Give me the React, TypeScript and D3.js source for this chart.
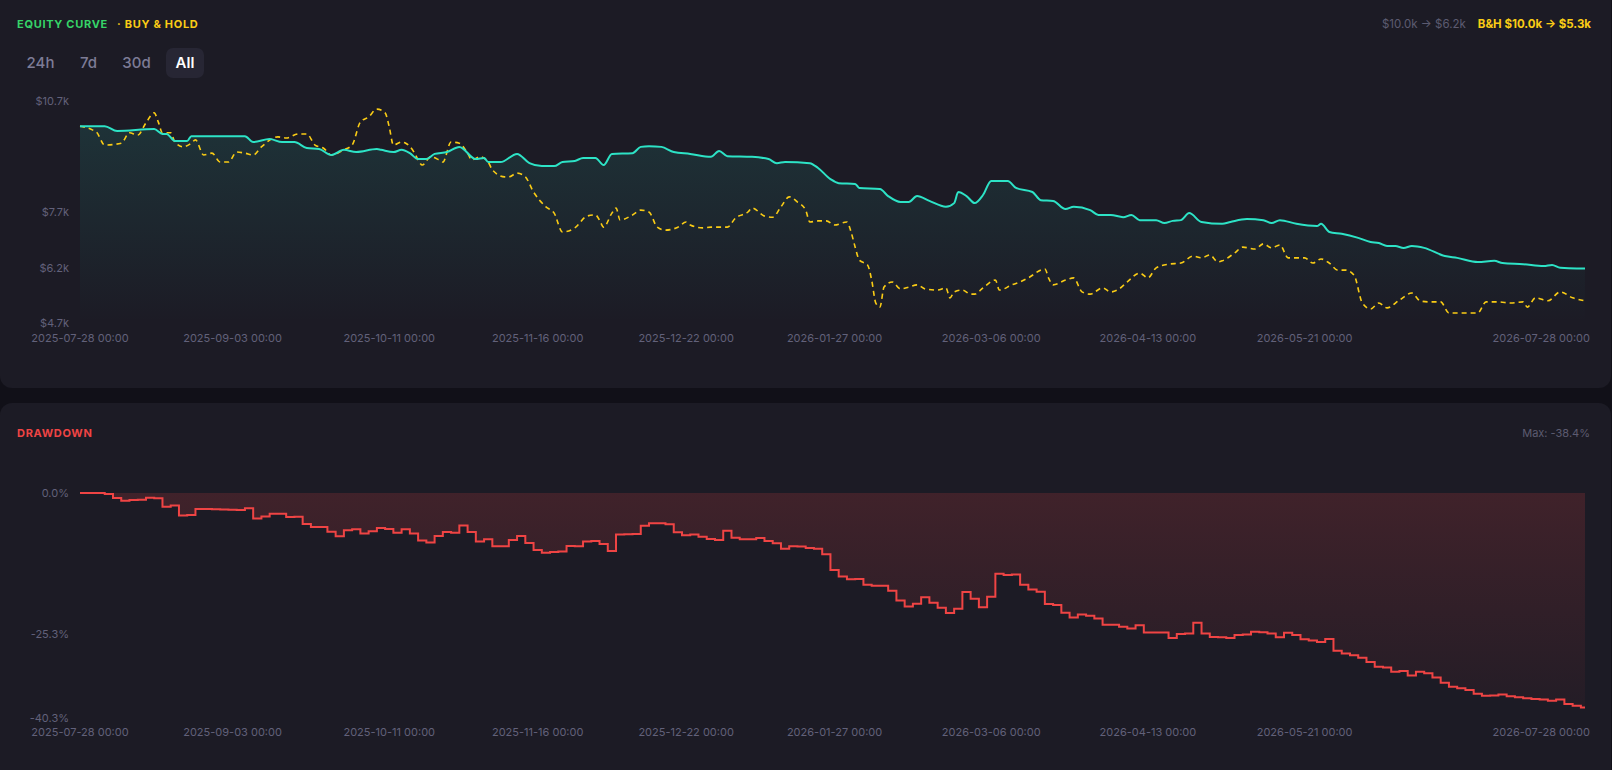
import * as d3 from "d3";

// ---- data ----
const START = "2025-07-28";
const END = "2026-07-28";

// [days since START, account value $]
const equityPoints: [number, number][] = [
  [0, 10020], [6, 10020], [9, 9890], [18, 9940], [20, 9810], [21, 9810], [23, 9620], [26, 9620],
  [27, 9750], [40, 9750], [42, 9590], [46, 9670], [49, 9590], [52, 9590], [55, 9430], [58, 9400],
  [61, 9240], [64, 9380], [67, 9320], [72, 9400], [73, 9380], [76, 9320], [78, 9380], [80, 9290],
  [82, 9130], [84, 9130], [86, 9270], [89, 9320], [92, 9460], [96, 9130], [98, 9160], [99, 9050],
  [102, 9050], [106, 9270], [109, 9020], [112, 8940], [115, 8940], [117, 9050], [120, 9080],
  [122, 9160], [125, 9160], [127, 8970], [129, 9270], [134, 9290], [136, 9460], [138, 9480],
  [141, 9460], [144, 9320], [148, 9270], [153, 9190], [155, 9350], [157, 9210], [163, 9190],
  [167, 9130], [169, 9020], [171, 9050], [177, 9020], [179, 8890], [182, 8590], [184, 8480],
  [188, 8460], [189, 8350], [194, 8320], [196, 8130], [199, 7970], [201, 7970], [203, 8130],
  [206, 8000], [210, 7840], [212, 7940], [213, 8240], [215, 8130], [217, 7940], [219, 8160],
  [221, 8540], [225, 8540], [227, 8350], [231, 8240], [233, 8020], [236, 8000], [239, 7780],
  [241, 7840], [245, 7750], [247, 7620], [250, 7620], [253, 7560], [255, 7620], [257, 7480],
  [261, 7480], [263, 7400], [265, 7460], [267, 7480], [269, 7670], [272, 7430], [277, 7380],
  [279, 7430], [283, 7510], [287, 7480], [289, 7400], [291, 7480], [295, 7380], [300, 7320],
  [301, 7380], [303, 7160], [306, 7110], [310, 7000], [313, 6890], [315, 6860], [317, 6780],
  [319, 6780], [321, 6730], [323, 6780], [326, 6730], [331, 6510], [334, 6460], [339, 6350],
  [343, 6380], [345, 6320], [350, 6290], [355, 6240], [357, 6270], [359, 6190], [363, 6170],
  [365, 6170],
];

const buyHoldPoints: [number, number][] = [
  [0, 10020], [3, 9920], [4, 9860], [6, 9510], [10, 9560], [12, 9840], [14, 9780], [16, 10110],
  [18, 10380], [19, 10130], [20, 9840], [22, 9840], [23, 9590], [25, 9460], [27, 9560], [28, 9650],
  [30, 9240], [32, 9290], [34, 9050], [36, 9050], [38, 9320], [40, 9290], [42, 9240], [44, 9460],
  [48, 9730], [50, 9700], [53, 9810], [55, 9810], [57, 9510], [59, 9430], [61, 9240], [64, 9380],
  [66, 9510], [68, 10130], [70, 10270], [72, 10480], [74, 10380], [75, 10000], [76, 9510],
  [78, 9590], [79, 9560], [81, 9320], [82, 9110], [83, 8970], [85, 9190], [87, 9110], [88, 9050],
  [90, 9590], [92, 9560], [94, 9290], [95, 9110], [97, 9190], [99, 9050], [100, 8840], [103, 8650],
  [104, 8650], [106, 8750], [108, 8650], [110, 8240], [113, 7840], [115, 7670], [117, 7160],
  [120, 7270], [123, 7590], [125, 7620], [126, 7480], [127, 7290], [129, 7670], [130, 7810],
  [131, 7480], [134, 7620], [136, 7750], [138, 7700], [140, 7290], [142, 7210], [145, 7290],
  [147, 7430], [148, 7350], [151, 7270], [153, 7290], [157, 7290], [159, 7540], [162, 7700],
  [163, 7810], [166, 7590], [168, 7560], [170, 7840], [172, 8110], [174, 7970], [176, 7750],
  [177, 7430], [179, 7460], [181, 7460], [183, 7350], [186, 7430], [187, 7160], [188, 6750],
  [189, 6400], [191, 6270], [192, 5860], [193, 5240], [194, 5130], [195, 5670], [197, 5810],
  [199, 5620], [201, 5670], [203, 5730], [205, 5620], [208, 5590], [210, 5650], [211, 5380],
  [212, 5540], [214, 5590], [216, 5480], [217, 5480], [219, 5650], [222, 5860], [223, 5590],
  [226, 5730], [228, 5810], [230, 5920], [234, 6160], [235, 5890], [236, 5730], [239, 5860],
  [241, 5920], [243, 5540], [245, 5480], [248, 5650], [250, 5540], [252, 5620], [254, 5810],
  [257, 6050], [259, 5920], [261, 6190], [264, 6290], [267, 6320], [270, 6510], [272, 6460],
  [274, 6540], [276, 6350], [277, 6380], [280, 6590], [282, 6750], [285, 6700], [287, 6840],
  [289, 6730], [291, 6810], [293, 6460], [297, 6460], [299, 6320], [301, 6430], [303, 6320],
  [305, 6130], [307, 6130], [309, 5990], [311, 5240], [313, 5080], [315, 5240], [317, 5110],
  [320, 5320], [323, 5510], [325, 5300], [327, 5270], [330, 5270], [332, 4970], [336, 4970],
  [339, 4970], [341, 5270], [344, 5270], [347, 5240], [350, 5270], [351, 5130], [353, 5380],
  [356, 5300], [359, 5540], [362, 5380], [365, 5300],
];

// drawdown %, one bar every 2 days
const drawdownPct: number[] = [
  0, 0, 0, -0.2, -0.9, -1.4, -1.25, -1.2, -0.85, -0.95,
  -2.45, -2.25, -4.05, -3.95, -2.85, -2.85, -2.9, -2.95, -3.0, -3.05,
  -2.75, -4.55, -4.2, -3.7, -3.7, -4.3, -4.25, -5.55, -6.1, -6.1,
  -6.95, -7.75, -6.65, -6.5, -7.25, -6.85, -6.25, -6.45, -7.1, -6.5,
  -7.25, -8.5, -8.85, -7.7, -7.0, -7.1, -5.8, -7.0, -8.7, -8.3,
  -9.55, -9.55, -8.4, -7.7, -8.95, -10.2, -10.7, -10.55, -10.5, -9.5,
  -9.55, -8.7, -8.6, -9.15, -10.4, -7.45, -7.4, -7.35, -5.85, -5.4,
  -5.4, -5.6, -7.05, -7.55, -7.45, -7.85, -8.25, -8.4, -6.75, -8.0,
  -8.3, -8.3, -8.05, -8.6, -9.0, -10.0, -9.55, -9.6, -9.85, -10.0,
  -10.95, -13.8, -14.95, -15.45, -15.4, -16.45, -16.6, -16.6, -17.5, -19.25,
  -20.35, -19.85, -18.65, -19.65, -20.55, -21.5, -20.75, -17.75, -18.95, -20.45,
  -18.6, -14.45, -14.7, -14.6, -16.45, -17.3, -17.7, -19.9, -20.05, -21.45,
  -22.3, -21.75, -22.0, -22.5, -23.6, -23.6, -23.95, -24.25, -23.7, -25.0,
  -25.0, -25.0, -25.95, -25.25, -25.15, -23.25, -25.15, -25.8, -25.85, -25.95,
  -25.45, -25.35, -24.85, -24.95, -25.15, -25.85, -25.05, -25.45, -26.2, -26.4,
  -26.7, -26.15, -28.25, -28.75, -29.05, -29.5, -30.25, -31.1, -31.25, -32.0,
  -31.9, -32.7, -32.0, -32.3, -33.05, -34.0, -34.7, -34.95, -35.3, -35.95,
  -36.3, -36.25, -36.1, -36.4, -36.6, -36.75, -36.9, -37.0, -37.2, -37.0,
  -37.8, -38.1, -38.4,
];

const xTickDates = [
  "2025-07-28", "2025-09-03", "2025-10-11", "2025-11-16", "2025-12-22",
  "2026-01-27", "2026-03-06", "2026-04-13", "2026-05-21", "2026-07-28",
];
const equityTicks = [10700, 7700, 6200, 4700];
const drawdownTicks = [0, -25.3, -40.3];
const ranges = ["24h", "7d", "30d", "All"];

// ---- style ----
const W = 1612;
const H = 770;
const FONT = "Inter, 'Noto Sans', sans-serif";
const C = {
  page: "#111018",
  panel: "#1c1b25",
  axis: "#62617a",
  muted: "#5c5b71",
  equity: "#2de3c6",
  bh: "#facc15",
  green: "#36d468",
  red: "#ef4444",
  btn: "#7d7c96",
  btnBg: "#272634",
};

export default function App() {
  const parse = d3.utcParse("%Y-%m-%d");
  const t0 = parse(START)!;
  const t1 = parse(END)!;
  const day = (d: number) => d3.utcDay.offset(t0, d);

  const x = d3.scaleUtc().domain([t0, t1]).range([80, 1585]);
  const yEq = d3.scaleLinear().domain([4700, 10700]).range([323, 101]);
  const yDd = d3.scaleLinear().domain([-40.3, 0]).range([718, 493]);

  const eqLine = d3
    .line<[number, number]>()
    .x((d) => x(day(d[0])))
    .y((d) => yEq(d[1]))
    .curve(d3.curveMonotoneX);
  const eqArea = d3
    .area<[number, number]>()
    .x((d) => x(day(d[0])))
    .y0(yEq(4700))
    .y1((d) => yEq(d[1]))
    .curve(d3.curveMonotoneX);

  // step chart: each value holds for two days, last one until the end date
  const ddPts: [number, number][] = drawdownPct.map((v, i) => [i * 2, v]);
  ddPts.push([365, drawdownPct[drawdownPct.length - 1]]);
  const ddLine = d3
    .line<[number, number]>()
    .x((d) => x(day(d[0])))
    .y((d) => yDd(d[1]))
    .curve(d3.curveStepAfter);
  const ddArea = d3
    .area<[number, number]>()
    .x((d) => x(day(d[0])))
    .y0(yDd(0))
    .y1((d) => yDd(d[1]))
    .curve(d3.curveStepAfter);

  const fmtK = (v: number) => "$" + (v / 1000).toFixed(1) + "k";
  const fmtDate = d3.utcFormat("%Y-%m-%d %H:%M");
  const eqFirst = equityPoints[0][1];
  const eqLast = equityPoints[equityPoints.length - 1][1];
  const bhFirst = buyHoldPoints[0][1];
  const bhLast = buyHoldPoints[buyHoldPoints.length - 1][1];
  const maxDd = d3.min(drawdownPct)!;

  const xLabels = (baseY: number) =>
    xTickDates.map((s, i) => {
      const last = i === xTickDates.length - 1;
      return (
        <text
          key={s}
          x={last ? 1590 : x(parse(s)!)}
          y={baseY}
          textAnchor={last ? "end" : "middle"}
          fill={C.axis}
          fontSize={11}
        >
          {fmtDate(parse(s)!)}
        </text>
      );
    });

  const btnCenters = [40.5, 88.5, 136.5, 185];

  return (
    <svg
      width={W}
      height={H}
      style={{ position: "fixed", left: 0, top: 0, fontFamily: FONT }}
    >
      <defs>
        <linearGradient id="eqFill" gradientUnits="userSpaceOnUse" x1="0" y1="101" x2="0" y2="323">
          <stop offset="0" stopColor={C.equity} stopOpacity={0.13} />
          <stop offset="1" stopColor={C.equity} stopOpacity={0} />
        </linearGradient>
        <linearGradient id="ddFill" gradientUnits="userSpaceOnUse" x1="0" y1="493" x2="0" y2="718">
          <stop offset="0" stopColor={C.red} stopOpacity={0.17} />
          <stop offset="1" stopColor={C.red} stopOpacity={0.03} />
        </linearGradient>
      </defs>

      <rect width={W} height={H} fill={C.page} />
      <rect x={0} y={-14} width={1611} height={402} rx={12} fill={C.panel} />
      <rect x={0} y={403} width={1611} height={380} rx={12} fill={C.panel} />

      {/* equity header */}
      <text x={17} y={28} fill={C.green} fontSize={11} fontWeight={700} letterSpacing={0.7}>
        EQUITY CURVE
      </text>
      <text x={117} y={28} fill={C.bh} fontSize={11} fontWeight={700} letterSpacing={0.7}>
        · BUY &amp; HOLD
      </text>
      <text x={1591} y={28} textAnchor="end" fontSize={11.5}>
        <tspan fill={C.muted}>
          {fmtK(eqFirst)} → {fmtK(eqLast)}
        </tspan>
        <tspan dx={12} fill={C.bh} fontWeight={700}>
          B&amp;H {fmtK(bhFirst)} → {fmtK(bhLast)}
        </tspan>
      </text>

      {/* range buttons */}
      <rect x={166} y={48} width={38} height={30} rx={7} fill={C.btnBg} />
      {ranges.map((r, i) => (
        <text
          key={r}
          x={btnCenters[i]}
          y={67.5}
          textAnchor="middle"
          fontSize={15}
          fontWeight={r === "All" ? 600 : 500}
          fill={r === "All" ? "#ffffff" : C.btn}
        >
          {r}
        </text>
      ))}

      {/* equity chart */}
      {equityTicks.map((t) => (
        <text key={t} x={69} y={yEq(t) + 4} textAnchor="end" fill={C.axis} fontSize={11}>
          {fmtK(t)}
        </text>
      ))}
      <path d={eqArea(equityPoints)!} fill="url(#eqFill)" />
      <path
        d={eqLine(buyHoldPoints)!}
        fill="none"
        stroke={C.bh}
        strokeWidth={1.6}
        strokeDasharray="5 4"
      />
      <path d={eqLine(equityPoints)!} fill="none" stroke={C.equity} strokeWidth={2} />
      {xLabels(342)}

      {/* drawdown header */}
      <text x={17} y={437} fill={C.red} fontSize={11} fontWeight={700} letterSpacing={0.7}>
        DRAWDOWN
      </text>
      <text x={1590} y={437} textAnchor="end" fill={C.muted} fontSize={11}>
        Max: {maxDd.toFixed(1)}%
      </text>

      {/* drawdown chart */}
      {drawdownTicks.map((t) => (
        <text key={t} x={69} y={yDd(t) + 4} textAnchor="end" fill={C.axis} fontSize={11}>
          {t.toFixed(1)}%
        </text>
      ))}
      <path d={ddArea(ddPts)!} fill="url(#ddFill)" />
      <path d={ddLine(ddPts)!} fill="none" stroke={C.red} strokeWidth={2} />
      {xLabels(736)}
    </svg>
  );
}
